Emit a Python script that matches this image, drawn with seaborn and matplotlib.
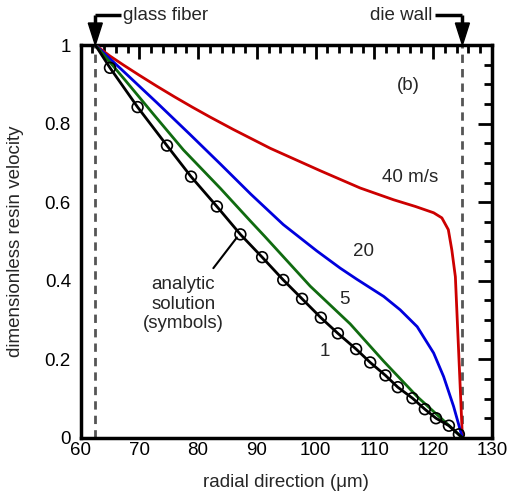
import numpy as np
import pandas as pd
import matplotlib
matplotlib.use("Agg")
import matplotlib.pyplot as plt
import seaborn as sns

# ---- data ----
r_40 = [62.5, 65.0, 67.3, 70.0, 73.0, 76.0, 79.0, 82.0, 86.0, 92.3, 100.8, 107.6, 113.3, 117.0, 120.1, 121.5, 122.6, 123.2, 123.8, 125.0]
v_40 = [1.0, 0.972, 0.949, 0.923, 0.895, 0.868, 0.842, 0.817, 0.785, 0.737, 0.680, 0.636, 0.606, 0.589, 0.573, 0.560, 0.530, 0.478, 0.41, 0.0]

r_20 = [62.5, 67.3, 73.0, 78.65, 83.8, 89.0, 94.5, 100.2, 104.2, 107.0, 111.6, 114.4, 117.3, 120.1, 121.8, 123.5, 125.0]
v_20 = [1.0, 0.933, 0.853, 0.772, 0.697, 0.620, 0.543, 0.476, 0.432, 0.404, 0.360, 0.326, 0.283, 0.216, 0.156, 0.08, 0.0]

r_5 = [62.5, 67.5, 72.5, 77.5, 83.8, 88.9, 91.4, 99.1, 105.9, 111.6, 117.3, 122.9, 125.0]
v_5 = [1.0, 0.912, 0.822, 0.733, 0.635, 0.552, 0.512, 0.386, 0.290, 0.195, 0.105, 0.029, 0.0]

r_1 = [62.5, 65.0, 69.7, 74.7, 78.8, 83.2, 87.2, 90.9, 94.5, 97.7, 100.9, 103.8, 106.9, 109.3, 111.9, 114.0, 116.5, 118.6, 120.5, 122.7, 125.0]
v_1 = [1.0, 0.942, 0.842, 0.744, 0.665, 0.589, 0.518, 0.46, 0.402, 0.354, 0.306, 0.266, 0.226, 0.192, 0.159, 0.129, 0.101, 0.073, 0.050, 0.031, 0.0]

r_an = [65.0, 69.7, 74.7, 78.8, 83.2, 87.2, 90.9, 94.5, 97.7, 100.9, 103.8, 106.9, 109.3, 111.9, 114.0, 116.5, 118.6, 120.5, 122.7, 124.4]
v_an = [0.942, 0.842, 0.744, 0.665, 0.589, 0.518, 0.46, 0.402, 0.354, 0.306, 0.266, 0.226, 0.192, 0.159, 0.129, 0.101, 0.073, 0.050, 0.031, 0.009]

x_ticks = [60, 70, 80, 90, 100, 110, 120, 130]
y_ticks = [0, 0.2, 0.4, 0.6, 0.8, 1]
y_tick_labels = ["0", "0.2", "0.4", "0.6", "0.8", "1"]
fiber_r = 62.5
wall_r = 125.0

sns.set_style("white")
plt.rcParams["font.family"] = ["Liberation Sans", "DejaVu Sans"]
FS = 13.5

fig = plt.figure(figsize=(5.07, 4.92), dpi=100)
ax = fig.add_axes([0.159, 0.110, 0.811, 0.7985])

ax.axvline(fiber_r, color="#555555", lw=2, ls=(0, (3, 2.2)), zorder=1)
ax.axvline(wall_r, color="#555555", lw=2, ls=(0, (3, 2.2)), zorder=1)

curves = [(r_40, v_40, "#cc0000"), (r_20, v_20, "#0000dd"), (r_5, v_5, "#106b10"), (r_1, v_1, "black")]
for rr, vv, c in curves:
    df = pd.DataFrame({"r": rr, "v": vv})
    sns.lineplot(data=df, x="r", y="v", ax=ax, color=c, lw=2.0, sort=False, estimator=None, zorder=3)

dfa = pd.DataFrame({"r": r_an, "v": v_an})
sns.scatterplot(data=dfa, x="r", y="v", ax=ax, s=60, facecolor="none", edgecolor="black", linewidth=1.2, zorder=4)

ax.set_xlim(60, 130)
ax.set_ylim(0, 1)
ax.set_xticks(x_ticks)
ax.set_yticks(y_ticks)
ax.set_yticklabels(y_tick_labels)
ax.set_xticks(np.arange(60, 131, 2), minor=True)
ax.set_yticks(np.arange(0, 1.001, 0.05), minor=True)
ax.tick_params(which="both", direction="in", top=True, right=True, width=2, colors="black", labelsize=FS)
ax.tick_params(axis="x", which="both", pad=3)
ax.tick_params(axis="y", which="both", pad=7)
ax.tick_params(which="major", length=10)
ax.tick_params(which="minor", length=6)
for s in ax.spines.values():
    s.set_linewidth(2.5)
    s.set_color("black")

ax.set_xlabel("radial direction (\u03bcm)", fontsize=FS, labelpad=11)
ax.set_ylabel("dimensionless resin velocity", fontsize=FS, labelpad=15)

ax.text(115.8, 0.898, "(b)", fontsize=FS, ha="center", va="center")
ax.text(116.1, 0.662, "40 m/s", fontsize=FS, ha="center", va="center")
ax.text(108.1, 0.474, "20", fontsize=FS, ha="center", va="center")
ax.text(104.9, 0.351, "5", fontsize=FS, ha="center", va="center")
ax.text(101.6, 0.22, "1", fontsize=FS, ha="center", va="center")
ax.text(77.5, 0.34, "analytic\nsolution\n(symbols)", fontsize=FS, ha="center", va="center", linespacing=1.2)
ax.plot([82.6, 86.6], [0.432, 0.51], color="black", lw=1.5, zorder=5)

# arrows above the axes
def marker_arrow(xd, xt, text, ha):
    y_line = 1.0 + 30 / 393
    y_tri = 1.0 + 22 / 393
    ax.plot([xd, xt], [y_line, y_line], color="black", lw=2.5, clip_on=False, solid_capstyle="butt")
    ax.plot([xd, xd], [y_line, y_tri], color="black", lw=2.5, clip_on=False, solid_capstyle="butt")
    hw = 7 / 5.871
    ax.fill([xd - hw, xd + hw, xd], [y_tri, y_tri, 1.0], color="black", clip_on=False, zorder=6)
    ax.text(xt + (0.4 if ha == "left" else -0.4), y_line, text, fontsize=FS, ha=ha, va="center")

marker_arrow(fiber_r, 66.8, "glass fiber", "left")
marker_arrow(wall_r, 120.3, "die wall", "right")

fig.savefig("out.png", dpi=100)
